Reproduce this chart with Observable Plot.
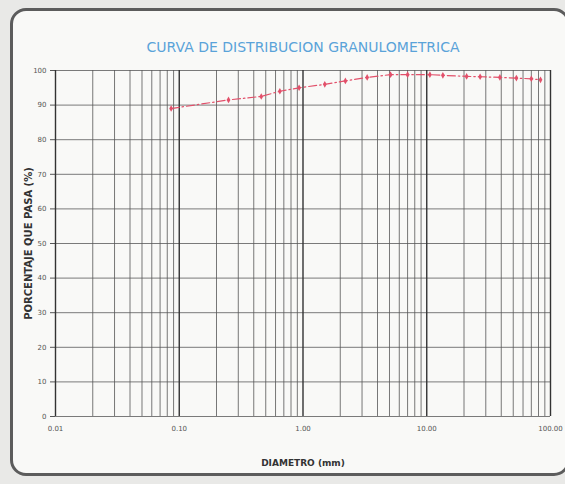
<!DOCTYPE html>
<html><head><meta charset="utf-8">
<script src="https://cdn.jsdelivr.net/npm/d3@7"></script>
<script src="https://cdn.jsdelivr.net/npm/@observablehq/plot@0.6"></script>
<style>
html,body{margin:0;padding:0;background:#e9e9e7;}
#wrap{position:relative;width:565px;height:484px;overflow:hidden;}
#border{position:absolute;left:10px;top:8px;width:560px;height:468px;border:3px solid #5c5c5c;border-radius:16px;background:#f9f9f7;box-sizing:border-box;}
#chart{position:absolute;left:0;top:0;}
</style></head><body>
<div id="wrap"><div id="border"></div><div id="chart"></div></div>
<script>
const diametro = [0.086, 0.25, 0.46, 0.65, 0.93, 1.5, 2.2, 3.3, 5.1, 7.0, 10.6, 13.5, 21, 27, 39, 53, 70, 83];
const pasa     = [89.0, 91.5, 92.5, 94.0, 95.0, 96.0, 97.0, 98.0, 98.8, 98.8, 98.8, 98.6, 98.3, 98.2, 98.0, 97.8, 97.6, 97.3];
const yTicks = [0, 10, 20, 30, 40, 50, 60, 70, 80, 90, 100];
const xTicks = [0.01, 0.1, 1, 10, 100];
const xTickLabels = ["0.01", "0.10", "1.00", "10.00", "100.00"];
const title = "CURVA DE DISTRIBUCION GRANULOMETRICA";
const xLabel = "DIAMETRO (mm)";
const yLabel = "PORCENTAJE QUE PASA (%)";

const minorTicks = d3.range(-2, 2).flatMap(e => d3.range(2, 10).map(m => m * Math.pow(10, e)));
const data = diametro.map((d, i) => ({d, p: pasa[i]}));

const chart = Plot.plot({
  width: 565, height: 484,
  marginLeft: 55, marginRight: 15, marginTop: 70, marginBottom: 68,
  style: {background: "transparent", fontFamily: "DejaVu Sans", fontSize: "7px", color: "#555"},
  x: {type: "log", domain: [0.01, 100], ticks: xTicks,
      tickFormat: d => xTickLabels[xTicks.indexOf(d)], label: null, tickSize: 0, tickPadding: 10},
  y: {domain: [0, 100], ticks: yTicks, label: null, tickSize: 5, tickPadding: 4},
  marks: [
    Plot.ruleY(yTicks, {stroke: "#7a7a7a", strokeWidth: 1}),
    Plot.ruleX(minorTicks, {stroke: "#555", strokeWidth: 0.8}),
    Plot.ruleX(xTicks, {stroke: "#333", strokeWidth: 1.4}),
    Plot.line(data, {x: "d", y: "p", stroke: "#e2506a", strokeWidth: 1.2, strokeDasharray: "8,3,1.5,3"}),
    Plot.dot(data, {x: "d", y: "p", symbol: "diamond", r: 2, fill: "#e2506a", stroke: "none"}),
    Plot.text([title], {frameAnchor: "top", dy: -28, fill: "#5aa3d9", fontSize: 14, fontFamily: "DejaVu Sans"}),
    Plot.text([xLabel], {frameAnchor: "bottom", dy: 49, fill: "#333", fontSize: 9, fontWeight: "bold"}),
    Plot.text([yLabel], {frameAnchor: "left", textAnchor: "middle", dx: -27, rotate: -90, fill: "#333", fontSize: 10, fontWeight: "bold"})
  ]
});
document.getElementById("chart").appendChild(chart);
</script>
</body></html>
